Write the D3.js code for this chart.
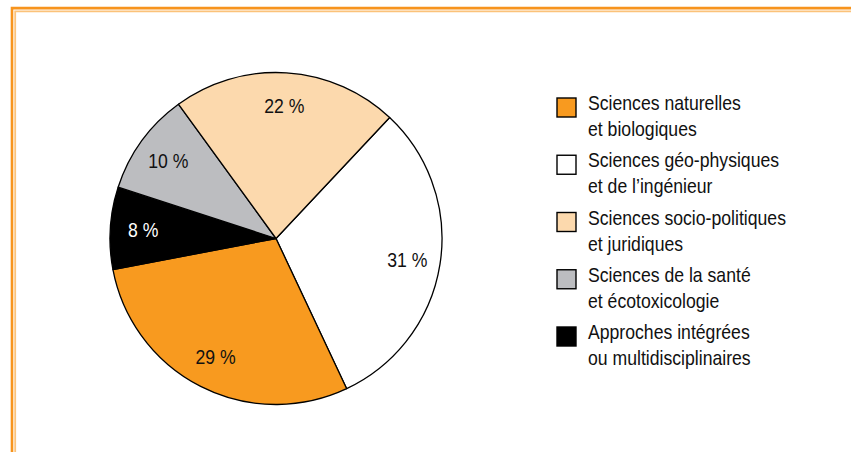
<!DOCTYPE html>
<html>
<head>
<meta charset="utf-8">
<script src="https://cdn.jsdelivr.net/npm/d3@7"></script>
<style>
html,body{margin:0;padding:0;background:#fff;}
svg{display:block;}
text{font-family:"Liberation Sans Narrow","Arial Narrow","Liberation Sans",Arial,sans-serif;}
</style>
</head>
<body>
<svg id="chart" width="851" height="452"></svg>
<script>
// Legend order
const categories = [
  ["Sciences naturelles", "et biologiques"],
  ["Sciences géo-physiques", "et de l\u2019ingénieur"],
  ["Sciences socio-politiques", "et juridiques"],
  ["Sciences de la santé", "et écotoxicologie"],
  ["Approches intégrées", "ou multidisciplinaires"]
];
const values = [29, 31, 22, 10, 8];
const colors = ["#F89A1F", "#FFFFFF", "#FCD9AD", "#BCBDC0", "#000000"];
const labelColors = ["#111", "#111", "#111", "#111", "#fff"];
// Clockwise order of the slices, starting at the white slice
const pieOrder = [1, 0, 4, 3, 2];
const startDeg = 43.2;

const svg = d3.select("#chart");

// condense text to look like a narrow face if one is not installed
function narrowFactor() {
  const t = svg.append("text").attr("font-size", 20).text("Sciences naturelles");
  const w = t.node().getComputedTextLength();
  t.remove();
  return Math.min(1, 153 / w);
}
const sx = narrowFactor();

// Orange frame
const frame = svg.append("g");
frame.append("path").attr("d", "M12,452 V8.1 H851").attr("fill", "none")
  .attr("stroke", "#F7941D").attr("stroke-width", 2.6);
frame.append("path").attr("d", "M15.2,452 V11.3 H851").attr("fill", "none")
  .attr("stroke", "#FBC27A").attr("stroke-width", 1.8);

const cx = 276, cy = 238.5, R = 166;
const g = svg.append("g").attr("transform", `translate(${cx},${cy})`);

const pieData = pieOrder.map(i => ({i, v: values[i]}));
const pie = d3.pie().sort(null).value(d => d.v)
  .startAngle(startDeg * Math.PI / 180)
  .endAngle(startDeg * Math.PI / 180 + 2 * Math.PI);
const arcs = pie(pieData);
const arc = d3.arc().innerRadius(0).outerRadius(R);
const labelArc = d3.arc().innerRadius(133).outerRadius(133);

g.selectAll("path.slice").data(arcs).enter().append("path")
  .attr("class", "slice")
  .attr("d", arc)
  .attr("fill", d => colors[d.data.i])
  .attr("stroke", "#000")
  .attr("stroke-width", 1.3)
  .attr("stroke-linejoin", "round");

g.selectAll("text.lbl").data(arcs).enter().append("text")
  .attr("class", "lbl")
  .attr("transform", d => `translate(${labelArc.centroid(d)}) scale(${sx},1)`)
  .attr("text-anchor", "middle")
  .attr("dy", "0.36em")
  .attr("font-size", 20)
  .attr("fill", d => labelColors[d.data.i])
  .text(d => d.data.v + " %");

// Legend
const leg = svg.append("g");
const rowY = d3.scaleLinear().domain([0, 4]).range([108, 337]);
categories.forEach((lines, i) => {
  const y = rowY(i);
  leg.append("rect")
    .attr("x", 557).attr("y", y - 10).attr("width", 19).attr("height", 19)
    .attr("fill", colors[i]).attr("stroke", "#000").attr("stroke-width", 1.4);
  lines.forEach((t, j) => {
    leg.append("text")
      .attr("transform", `translate(588,${y - 5 + j * 26}) scale(${sx},1)`)
      .attr("dy", "0.36em")
      .attr("font-size", 20)
      .attr("fill", "#111")
      .text(t);
  });
});
</script>
</body>
</html>
